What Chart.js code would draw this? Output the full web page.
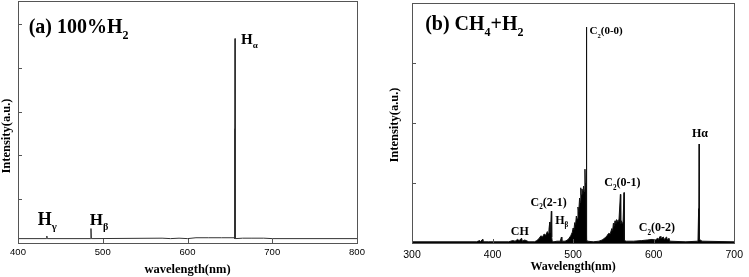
<!DOCTYPE html>
<html>
<head>
<meta charset="utf-8">
<script src="https://cdn.jsdelivr.net/npm/chart.js"></script>
<style>
  body { margin: 0; background: #fff; }
  .painel { position: absolute; top: 0; }
</style>
</head>
<body>
<div class="painel" style="left:0"><canvas id="graficoA" width="370" height="277"></canvas></div>
<div class="painel" style="left:370px"><canvas id="graficoB" width="379" height="277"></canvas></div>
<script>
// (a) 100% H2 - comprimento de onda (nm) e intensidade (u.a.)
const ondaA = [400, 433.5, 434, 434.5, 485.6, 486.1, 486.6, 570, 580, 590, 600, 610, 625, 640, 655.2,
    655.5, 655.7, 656.1, 656.4, 665, 675, 690, 700, 800];
const intensA = [0.1, 0.1, 0.16, 0.1, 0.1, 0.33, 0.1, 0.11, 0.1, 0.11, 0.1, 0.12, 0.12, 0.12, 0.12,
    2.61, 0.1, 4.67, 0.1, 0.11, 0.11, 0.11, 0.1, 0.1];

// (b) CH4 + H2
const ondaB = [300, 380, 384, 385, 387.5, 388, 395, 420, 425, 428, 431, 433, 436, 437, 440, 445,
    452, 455, 458, 460, 462, 464, 466, 468, 469, 470, 471, 471.3, 472, 473, 473.4, 474, 476, 480, 484,
    485.5, 486, 490, 493, 495, 497, 499, 500, 501, 502, 503, 504, 505, 506, 507, 508, 509, 509.5, 510,
    511, 512, 513, 514, 514.7, 515.2, 516, 516.5, 516.9, 518, 525, 532, 536, 538, 540, 542, 544, 546,
    548, 549, 550, 551, 552, 553, 554, 556, 557, 558.7, 559.1, 560, 561, 562, 563.2, 563.6, 566, 575,
    585, 592, 598, 602, 605, 606, 608, 609, 612, 613, 616, 617, 619, 620, 640, 655, 655.8, 656, 656.4,
    656.8, 660, 700];
const intensB = [0.02, 0.02, 0.04, 0.02, 0.06, 0.02, 0.02, 0.02, 0.04, 0.03, 0.06, 0.04, 0.08, 0.03, 0.05, 0.02,
    0.02, 0.04, 0.08, 0.12, 0.1, 0.15, 0.13, 0.19, 0.16, 0.22, 0.35, 0.17, 0.22, 0.53, 0.1, 0.03, 0.02, 0.03, 0.03,
    0.1, 0.03, 0.03, 0.05, 0.08, 0.12, 0.18, 0.25, 0.22, 0.34, 0.3, 0.45, 0.4, 0.6, 0.52, 0.75, 0.68, 0.92, 0.8,
    0.9, 0.82, 0.95, 0.86, 1.23, 0.92, 1.0, 3.6, 0.05, 0.03, 0.02, 0.03, 0.05, 0.07, 0.09, 0.12, 0.16, 0.15,
    0.24, 0.2, 0.33, 0.28, 0.37, 0.32, 0.39, 0.35, 0.4, 0.81, 0.32, 0.37, 0.32, 0.35, 0.84, 0.04, 0.03, 0.03,
    0.04, 0.05, 0.06, 0.05, 0.08, 0.06, 0.11, 0.07, 0.1, 0.06, 0.1, 0.05, 0.08, 0.03, 0.02, 0.03, 0.57, 0.1, 1.65,
    0.06, 0.03, 0.02];

const ticksXA = [400, 800];
const ticksXB = [300, 700];

// rótulos: [texto, tipo] -> 'n' normal, 's' subscrito
const notasA = [
    { nm: 412.6, val: 4.81, tam: 20, partes: [['(a) 100%H', 'n'], ['2', 's']] },
    { nm: 663.2, val: 4.55, tam: 15, partes: [['H', 'n'], ['α', 's']] },
    { nm: 423.3, val: 0.41, tam: 18, partes: [['H', 'n'], ['γ', 's']] },
    { nm: 484.8, val: 0.41, tam: 17, partes: [['H', 'n'], ['β', 's']] }
];
const notasB = [
    { nm: 316.3, val: 3.55, tam: 20, partes: [['(b) CH', 'n'], ['4', 's'], ['+H', 'n'], ['2', 's']] },
    { nm: 520.4, val: 3.48, tam: 11, partes: [['C', 'n'], ['2', 's'], ['(0-0)', 'n']] },
    { nm: 647.6, val: 1.77, tam: 12, partes: [['Hα', 'n']] },
    { nm: 538.7, val: 0.95, tam: 12, partes: [['C', 'n'], ['2', 's'], ['(0-1)', 'n']] },
    { nm: 447.1, val: 0.62, tam: 12, partes: [['C', 'n'], ['2', 's'], ['(2-1)', 'n']] },
    { nm: 477.7, val: 0.32, tam: 12, partes: [['H', 'n'], ['β', 's']] },
    { nm: 422.7, val: 0.13, tam: 12, partes: [['CH', 'n']] },
    { nm: 581.5, val: 0.2, tam: 12, partes: [['C', 'n'], ['2', 's'], ['(0-2)', 'n']] }
];

function escreverRico(ctx, x, y, partes, tam) {
    ctx.textBaseline = 'alphabetic';
    ctx.textAlign = 'left';
    partes.forEach(function (p) {
        var sub = p[1] == 's';
        var t = sub ? tam * 0.6 : tam;
        ctx.font = 'bold ' + t + 'px "Liberation Serif", "Times New Roman", serif';
        ctx.fillText(p[0], x, sub ? y + tam * 0.3 : y);
        x += ctx.measureText(p[0]).width;
    });
}

// moldura, ticks internos, rótulos e títulos dos eixos
const moldura = {
    id: 'moldura',
    afterDraw(chart, args, opts) {
        const ctx = chart.ctx;
        const a = chart.chartArea;
        const x = chart.scales.x, y = chart.scales.y;
        ctx.save();
        ctx.strokeStyle = '#555';
        ctx.lineWidth = 1;
        ctx.strokeRect(Math.round(a.left) + 0.5, Math.round(a.top) + 0.5,
            Math.round(a.right - a.left), Math.round(a.bottom - a.top));
        ctx.beginPath();
        x.ticks.forEach(function (t) {
            var px = Math.round(x.getPixelForValue(t.value)) + 0.5;
            ctx.moveTo(px, a.bottom);
            ctx.lineTo(px, a.bottom - 4);
        });
        for (var v = 1; v < y.max; v++) {
            var py = Math.round(y.getPixelForValue(v)) + 0.5;
            ctx.moveTo(a.left, py);
            ctx.lineTo(a.left + 4, py);
        }
        ctx.stroke();

        ctx.fillStyle = '#000';
        opts.notas.forEach(function (n) {
            escreverRico(ctx, x.getPixelForValue(n.nm), y.getPixelForValue(n.val), n.partes, n.tam);
        });

        ctx.textAlign = 'center';
        ctx.font = 'bold ' + opts.tamX + 'px "Liberation Serif", serif';
        ctx.fillText(opts.tituloX, (a.left + a.right) / 2, opts.yTituloX);

        ctx.translate(opts.xTituloY, (a.top + a.bottom) / 2 + opts.dyTituloY);
        ctx.rotate(-Math.PI / 2);
        ctx.font = 'bold 12.5px "Liberation Serif", serif';
        ctx.textBaseline = 'middle';
        ctx.fillText('Intensity(a.u.)', 0, 0);
        ctx.restore();
    }
};

function montarGrafico(id, onda, intens, limitesX, maxY, cfg) {
    var pontos = onda.map(function (w, i) { return { x: w, y: intens[i] }; });
    return new Chart(document.getElementById(id), {
        type: 'line',
        data: {
            datasets: [{
                data: pontos,
                borderColor: cfg.cor,
                backgroundColor: cfg.preenchimento ? '#000' : 'transparent',
                fill: cfg.preenchimento ? 'origin' : false,
                borderWidth: 1,
                pointRadius: 0,
                tension: 0
            }]
        },
        options: {
            responsive: false,
            animation: false,
            events: [],
            layout: { autoPadding: false, padding: cfg.padding },
            plugins: {
                legend: { display: false },
                tooltip: { enabled: false },
                moldura: cfg.moldura
            },
            scales: {
                x: {
                    type: 'linear',
                    min: limitesX[0],
                    max: limitesX[1],
                    grid: { display: false, drawTicks: false, tickLength: 0 },
                    border: { display: false },
                    ticks: {
                        stepSize: 100,
                        color: '#000',
                        padding: cfg.padTicks,
                        font: { family: '"Liberation Sans", Arial, sans-serif', size: cfg.tamTicks }
                    },
                    afterFit: function (s) { s.height = cfg.alturaX; }
                },
                y: {
                    min: 0,
                    max: maxY,
                    grid: { display: false },
                    border: { display: false },
                    ticks: { display: false },
                    afterFit: function (s) { s.width = cfg.larguraY; }
                }
            }
        },
        plugins: [moldura]
    });
}

montarGrafico('graficoA', ondaA, intensA, ticksXA, 5.53, {
    cor: '#333',
    preenchimento: false,
    padding: { top: 1, right: 13, left: 0, bottom: 0 },
    alturaX: 34,
    larguraY: 18,
    padTicks: 4,
    tamTicks: 9.5,
    moldura: { notas: notasA, tituloX: 'wavelength(nm)', tamX: 12.5, yTituloX: 273, xTituloY: 7, dyTituloY: 14 }
});

montarGrafico('graficoB', ondaB, intensB, ticksXB, 4, {
    cor: '#111',
    preenchimento: true,
    padding: { top: 3, right: 10, left: 0, bottom: 0 },
    alturaX: 34,
    larguraY: 42,
    padTicks: 6,
    tamTicks: 10.5,
    moldura: { notas: notasB, tituloX: 'Wavelength(nm)', tamX: 12, yTituloX: 270, xTituloY: 25, dyTituloY: 2 }
});
</script>
</body>
</html>
